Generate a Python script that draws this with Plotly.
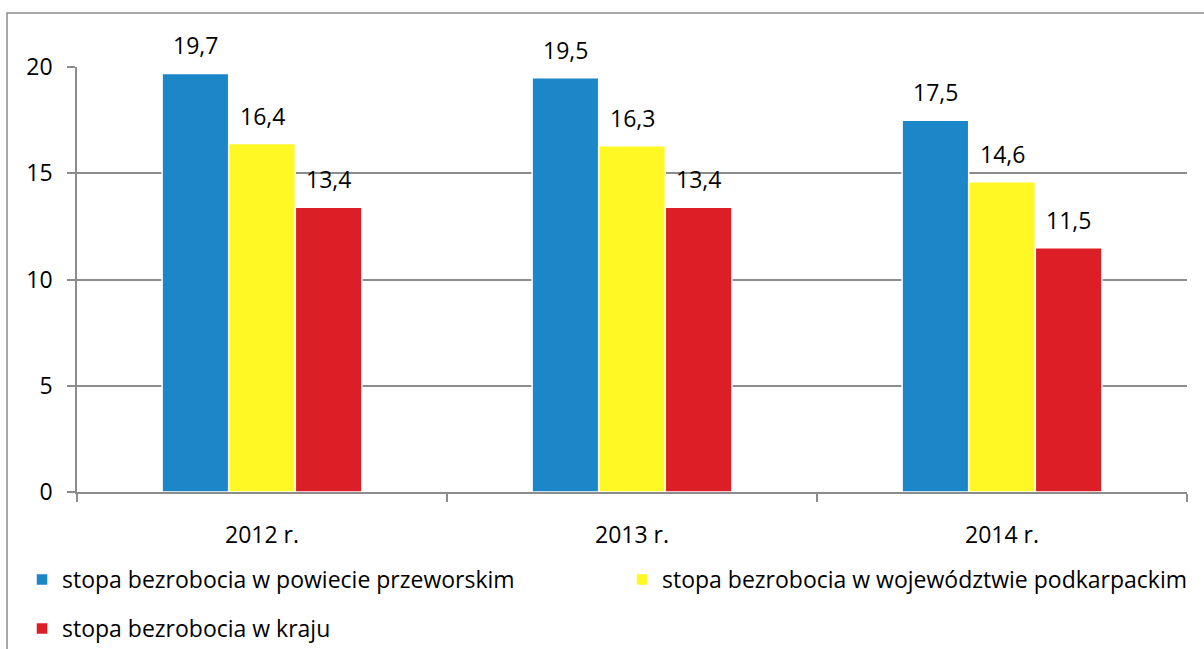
import plotly.graph_objects as go

categories = ["2012 r.", "2013 r.", "2014 r."]
series_names = [
    "stopa bezrobocia w powiecie przeworskim",
    "stopa bezrobocia w województwie podkarpackim",
    "stopa bezrobocia w kraju",
]
powiat = [19.7, 19.5, 17.5]
wojewodztwo = [16.4, 16.3, 14.6]
kraj = [13.4, 13.4, 11.5]
y_ticks = [0, 5, 10, 15, 20]

colors = ["#1B87C8", "#FFF824", "#DC1F26"]
values = [powiat, wojewodztwo, kraj]

W, H = 1204, 649
ML, MR, MT, MB = 77, 17, 67, 157
bargap = 0.46
FONT = "Open Sans"
FS = 23

fig = go.Figure()
legends = ["legend", "legend2", "legend3"]
for name, vals, col, lg in zip(series_names, values, colors, legends):
    fig.add_trace(go.Bar(
        x=categories, y=vals, name=name,
        marker=dict(color=col, line=dict(color="white", width=1.5)),
        legend=lg, showlegend=True,
    ))

plot_w = W - ML - MR
bar_px = plot_w / len(categories) * (1 - bargap) / len(values)
annotations = []
for i, vals in enumerate(values):
    for c, v in zip(categories, vals):
        annotations.append(dict(
            x=c, y=v, xref="x", yref="y",
            text=f"{v:.1f}".replace(".", ","),
            showarrow=False, xanchor="center", yanchor="middle",
            xshift=(i - 1) * bar_px, yshift=28,
            font=dict(family=FONT, size=FS, color="#000000"),
        ))

plot_h = H - MT - MB
def px_x(p):
    return (p - ML) / plot_w
def px_y(p):
    return (H - MB - p) / plot_h

def legend_at(left_px, top_px):
    return dict(
        orientation="h", xref="container", yref="container",
        x=left_px / W, y=1 - top_px / H, xanchor="left", yanchor="top",
        font=dict(family=FONT, size=FS, color="#000000"),
        bgcolor="rgba(0,0,0,0)",
    )

fig.update_layout(
    width=W, height=H,
    showlegend=True,
    margin=dict(l=ML, r=MR, t=MT, b=MB, autoexpand=False),
    paper_bgcolor="white", plot_bgcolor="white",
    barmode="group", bargap=bargap, bargroupgap=0,
    font=dict(family=FONT, size=FS, color="#000000"),
    annotations=annotations,
    xaxis=dict(
        type="category", tickson="boundaries", ticks="outside", ticklen=8,
        tickcolor="#8C8C8C", tickwidth=1.5,
        showline=True, linecolor="#8C8C8C", linewidth=1.5,
        showgrid=False, ticklabelstandoff=22, automargin=False,
        tickfont=dict(family=FONT, size=FS, color="#000000"),
    ),
    yaxis=dict(
        range=[0, 20], tickvals=y_ticks, ticks="outside", ticklen=8,
        tickcolor="#8C8C8C", tickwidth=1.5,
        showline=True, linecolor="#8C8C8C", linewidth=1.5,
        showgrid=True, gridcolor="#8C8C8C", gridwidth=1.5,
        zeroline=False, ticklabelstandoff=10, automargin=False,
        tickfont=dict(family=FONT, size=FS, color="#000000"),
    ),
    legend=legend_at(22, 558),
    legend2=legend_at(622, 558),
    legend3=legend_at(22, 607),
    shapes=[dict(
        type="rect", xref="paper", yref="paper",
        x0=px_x(7), x1=px_x(1215), y0=px_y(660), y1=px_y(13),
        line=dict(color="#8C8C8C", width=1.5), layer="below",
    )],
)

fig.write_html("out.html", config={"displayModeBar": False},
               post_script="document.body.style.margin='0';")
